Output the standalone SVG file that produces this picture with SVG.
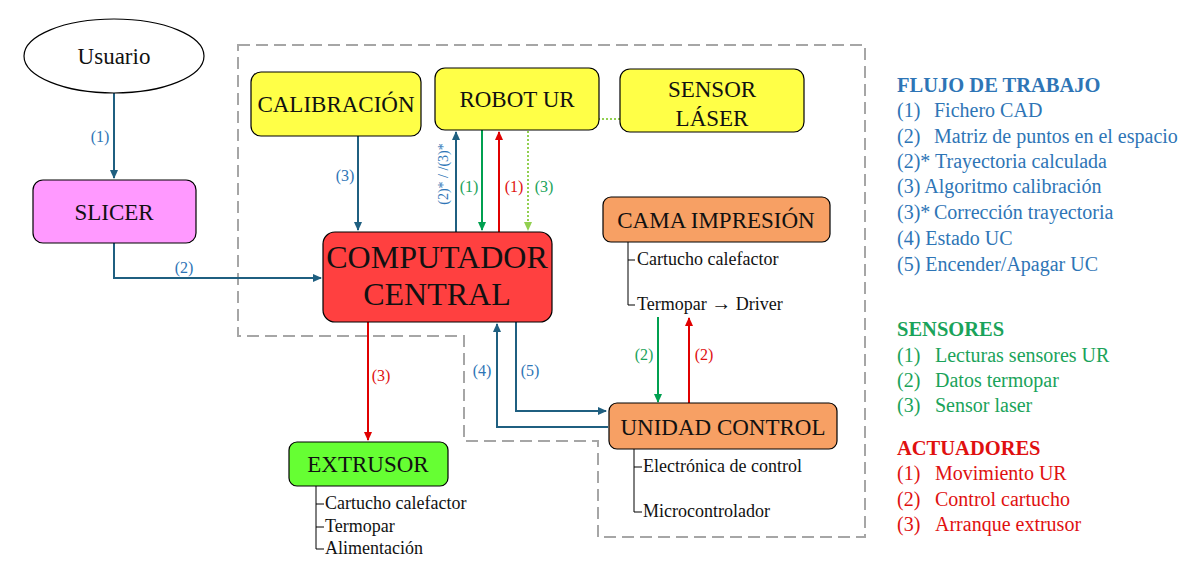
<svg xmlns="http://www.w3.org/2000/svg" width="1202" height="583" viewBox="0 0 1202 583" font-family="'Liberation Serif', Tinos, 'DejaVu Serif', serif">
<style>
text{font-family:'Liberation Serif', Tinos, 'DejaVu Serif', serif;fill:#111}
.node{stroke:#000;stroke-width:1.2}
.nl{font-size:23px;text-anchor:middle}
.big{font-size:32px;text-anchor:middle}
.sub{font-size:18px}
.lb{font-size:16px;text-anchor:middle}
.ab{stroke:#1F5F80;stroke-width:2;fill:none}
.ag{stroke:#00A050;stroke-width:2;fill:none}
.ar{stroke:#E00000;stroke-width:2;fill:none}
.ad{stroke:#92D050;stroke-width:2;fill:none;stroke-dasharray:2 2}
.tb{fill:#2E75B6}.tg{fill:#1AA35A}.tr{fill:#E01010}
.tree{stroke:#000;stroke-width:1;fill:none}
.leg{font-size:20px}
.lh{font-size:20.5px;font-weight:bold}
</style>
<defs>
<marker id="mb" markerWidth="10" markerHeight="10" refX="8" refY="5" orient="auto" markerUnits="userSpaceOnUse"><path d="M0,1 L9,5 L0,9 Z" fill="#1F5F80"/></marker>
<marker id="mg" markerWidth="10" markerHeight="10" refX="8" refY="5" orient="auto" markerUnits="userSpaceOnUse"><path d="M0,1 L9,5 L0,9 Z" fill="#00A050"/></marker>
<marker id="mr" markerWidth="10" markerHeight="10" refX="8" refY="5" orient="auto" markerUnits="userSpaceOnUse"><path d="M0,1 L9,5 L0,9 Z" fill="#E00000"/></marker>
<marker id="ml" markerWidth="10" markerHeight="10" refX="8" refY="5" orient="auto" markerUnits="userSpaceOnUse"><path d="M0,1 L9,5 L0,9 Z" fill="#92D050"/></marker>
</defs>
<rect width="1202" height="583" fill="#fff"/>
<path id="boundary" d="M238,45 H865 V537 H598 V441 H464 V336 H238 Z" fill="none" stroke="#A6A6A6" stroke-width="2" stroke-dasharray="12 6"/>
<g id="connectors">
<path class="ab" d="M114,93 V178" marker-end="url(#mb)"/>
<path class="ab" d="M114,243 V278 H321" marker-end="url(#mb)"/>
<path class="ab" d="M358,136 V230" marker-end="url(#mb)"/>
<path class="ab" d="M456,232 V132" marker-end="url(#mb)"/>
<path class="ag" d="M482,130 V230" marker-end="url(#mg)"/>
<path class="ar" d="M499,232 V132" marker-end="url(#mr)"/>
<path class="ad" d="M620,119 H528 V230" marker-end="url(#ml)"/>
<path class="ar" d="M368,322 V440" marker-end="url(#mr)"/>
<path class="ab" d="M608,427 H497 V324" marker-end="url(#mb)"/>
<path class="ab" d="M516,322 V411 H606" marker-end="url(#mb)"/>
<path class="ag" d="M658,317 V402" marker-end="url(#mg)"/>
<path class="ar" d="M689,403 V318" marker-end="url(#mr)"/>
<text class="lb tb" x="100" y="142">(1)</text>
<text class="lb tb" x="184" y="273">(2)</text>
<text class="lb tb" x="345" y="181">(3)</text>
<text class="tb" font-size="14" text-anchor="middle" transform="translate(448,174) rotate(-90)">(2)* / /(3)*</text>
<text class="lb tg" x="469" y="192">(1)</text>
<text class="lb tr" x="514" y="192">(1)</text>
<text class="lb tg" x="544" y="192">(3)</text>
<text class="lb tr" x="381" y="381">(3)</text>
<text class="lb tb" x="482" y="376">(4)</text>
<text class="lb tb" x="530" y="376">(5)</text>
<text class="lb tg" x="644" y="360">(2)</text>
<text class="lb tr" x="704" y="360">(2)</text>
</g>
<g id="usuario"><ellipse class="node" cx="114" cy="56" rx="90" ry="37" fill="#fff"/><text class="nl" x="114" y="64">Usuario</text></g>
<g id="slicer"><rect class="node" x="33" y="180" width="163" height="63" rx="10" fill="#FF99FF"/><text class="nl" x="114" y="220">SLICER</text></g>
<g id="calibracion"><rect class="node" x="251" y="72" width="170" height="64" rx="10" fill="#FFFF47"/><text class="nl" x="336" y="112">CALIBRACIÓN</text></g>
<g id="robot"><rect class="node" x="435" y="68" width="164" height="62" rx="10" fill="#FFFF47"/><text class="nl" x="517" y="107">ROBOT UR</text></g>
<g id="sensor"><rect class="node" x="620" y="69" width="184" height="63" rx="10" fill="#FFFF47"/><text class="nl" x="712" y="97">SENSOR</text><text class="nl" x="712" y="126">LÁSER</text></g>
<g id="computador"><rect class="node" x="323" y="232" width="229" height="90" rx="12" fill="#FF4040"/><text class="big" x="437" y="268">COMPUTADOR</text><text class="big" x="437" y="305">CENTRAL</text></g>
<g id="cama"><rect class="node" x="603" y="197" width="227" height="45" rx="8" fill="#F7A064"/><text class="nl" x="716" y="228">CAMA IMPRESIÓN</text>
<path class="tree" d="M628,242 V305 H635 M628,260 H635"/>
<text class="sub" x="637" y="265">Cartucho calefactor</text><text class="sub" x="637" y="310">Termopar <tspan font-weight="bold" font-size="20">→</tspan> Driver</text></g>
<g id="unidad"><rect class="node" x="609" y="403" width="228" height="46" rx="8" fill="#F7A064"/><text class="nl" x="723" y="435">UNIDAD CONTROL</text>
<path class="tree" d="M634,449 V512 H642 M634,467 H642"/>
<text class="sub" x="643" y="472">Electrónica de control</text><text class="sub" x="643" y="517">Microcontrolador</text></g>
<g id="extrusor"><rect class="node" x="289" y="442" width="159" height="44" rx="8" fill="#66FF33"/><text class="nl" x="368" y="472">EXTRUSOR</text>
<path class="tree" d="M316,486 V549 H324 M316,504 H324 M316,527 H324"/>
<text class="sub" x="325" y="509">Cartucho calefactor</text><text class="sub" x="325" y="532">Termopar</text><text class="sub" x="325" y="554">Alimentación</text></g>
<g id="legend">
<text class="lh tb" x="897" y="92">FLUJO DE TRABAJO</text>
<text class="leg tb" y="117"><tspan x="897">(1)</tspan><tspan x="934">Fichero CAD</tspan></text>
<text class="leg tb" y="143"><tspan x="897">(2)</tspan><tspan x="934">Matriz de puntos en el espacio</tspan></text>
<text class="leg tb" y="168"><tspan x="897">(2)*</tspan><tspan x="935">Trayectoria calculada</tspan></text>
<text class="leg tb" x="897" y="193">(3) Algoritmo calibración</text>
<text class="leg tb" y="219"><tspan x="897">(3)*</tspan><tspan x="934">Corrección trayectoria</tspan></text>
<text class="leg tb" x="897" y="245">(4) Estado UC</text>
<text class="leg tb" x="897" y="271">(5) Encender/Apagar UC</text>
<text class="lh tg" x="897" y="336">SENSORES</text>
<text class="leg tg" y="362"><tspan x="897">(1)</tspan><tspan x="935">Lecturas sensores UR</tspan></text>
<text class="leg tg" y="387"><tspan x="897">(2)</tspan><tspan x="935">Datos termopar</tspan></text>
<text class="leg tg" y="412"><tspan x="897">(3)</tspan><tspan x="935">Sensor laser</tspan></text>
<text class="lh tr" x="897" y="455">ACTUADORES</text>
<text class="leg tr" y="480"><tspan x="897">(1)</tspan><tspan x="935">Movimiento UR</tspan></text>
<text class="leg tr" y="506"><tspan x="897">(2)</tspan><tspan x="935">Control cartucho</tspan></text>
<text class="leg tr" y="531"><tspan x="897">(3)</tspan><tspan x="935">Arranque extrusor</tspan></text>
</g>
</svg>
